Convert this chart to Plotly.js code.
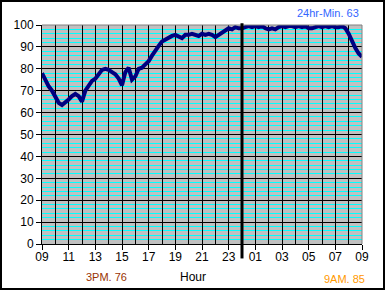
<!DOCTYPE html>
<html>
<head>
<meta charset="utf-8">
<script src="https://cdn.plot.ly/plotly-3.0.1.min.js"></script>
<style>
  html, body { margin: 0; padding: 0; background: #ffffff; }
  #wrap { position: relative; width: 385px; height: 290px; }
  #chart { position: absolute; left: 0; top: 0; width: 385px; height: 290px; }
  #frame { position: absolute; left: 0; top: 0; width: 385px; height: 290px;
           box-sizing: border-box; border: 2px solid #000000; pointer-events: none; }
</style>
</head>
<body>
<div id="wrap"><div id="chart"></div><div id="frame"></div></div>
<script>
// Samples every 15 minutes, starting 09:00 (hour offset 0) through 09:00 next day (offset 24)
const sampleMinutes = 15;
const humidity = [
  78, 74.5, 72, 70, 67, 64.5, 63.5, 64.5, 66, 67.5, 68.5, 67.5, 65,
  70, 72, 74.5, 75.5, 77.5, 79.5, 80, 79.5, 78.5, 77.5, 75.5, 72.5,
  78.5, 80.5, 75, 76.5, 80, 80.5, 82, 83.5,
  86, 88.5, 90.5, 92.5, 93.5, 94.5, 95, 95.5, 94.5, 94, 95.5, 95.5,
  96, 95.5, 95, 96, 95.5, 96, 95.5, 94.5, 95.5, 96.5, 97.5, 98.5,
  98, 99, 98.5, 98.5,
  99, 99.5, 99, 99.5, 99, 99.5, 98.5, 98, 98.5, 98, 99, 99.5, 99,
  99.5, 99.5, 99, 99.5, 99, 99.5, 98.5, 98.5, 99, 99.5, 99, 99.5,
  99, 99.5, 99, 99, 99.5, 98.5,
  96, 92.5, 89.5, 87, 85.5
];
// hour gridlines (every hour) with labels on even offsets
const gridHours = [0, 1, 2, 3, 4, 5, 6, 7, 8, 9, 10, 11, 12, 13, 14, 15, 16, 17, 18, 19, 20, 21, 22, 23, 24];
const gridLabels = ["09", "", "11", "", "13", "", "15", "", "17", "", "19", "", "21", "", "23", "", "01", "", "03", "", "05", "", "07", "", "09"];
const tickHours = [0, 2, 4, 6, 8, 10, 12, 14, 16, 18, 20, 22, 24];
const midnightHour = 15;
const minLabel = "24hr-Min. 63";
const label3pm = "3PM. 76";
const label9am = "9AM. 85";
const xTitle = "Hour";

const hours = humidity.map((v, i) => i * sampleMinutes / 60);

const font = "Liberation Sans, Arial, sans-serif";

const trace = {
  x: hours, y: humidity, type: "scatter", mode: "lines",
  line: { color: "#000080", width: 4 }, hoverinfo: "skip"
};

function note(text, x, y, size, color) {
  return { text: text, xref: "paper", yref: "paper", x: x, y: y, showarrow: false,
           xanchor: "center", yanchor: "middle",
           font: { family: font, size: size, color: color } };
}

const layout = {
  width: 385, height: 290,
  margin: { l: 42, r: 23, t: 25, b: 46, pad: 0 },
  paper_bgcolor: "#ffffff",
  plot_bgcolor: "#c0c0c0",
  showlegend: false,
  font: { family: font, size: 12, color: "#000000" },
  xaxis: {
    range: [0, 24], tickmode: "array", tickvals: gridHours, ticktext: gridLabels,
    showgrid: true, gridcolor: "#000000", gridwidth: 1,
    ticks: "",
    minor: { tickmode: "array", tickvals: tickHours, showgrid: false,
             ticks: "outside", ticklen: 5, tickcolor: "#000000", tickwidth: 1 },
    ticklabelstandoff: 2,
    showline: true, linecolor: "#000000", linewidth: 1,
    zeroline: false, fixedrange: true,
    tickfont: { family: font, size: 12, color: "#000000" }
  },
  yaxis: {
    range: [0, 100], tickmode: "linear", tick0: 0, dtick: 10,
    showgrid: true, gridcolor: "#000000", gridwidth: 1,
    minor: { dtick: 2, showgrid: true, gridcolor: "#00ffff", gridwidth: 1, ticks: "" },
    ticks: "outside", ticklen: 5, tickcolor: "#000000", tickwidth: 1,
    showline: true, linecolor: "#000000", linewidth: 1,
    zeroline: false, fixedrange: true,
    tickfont: { family: font, size: 12, color: "#000000" }
  },
  shapes: [
    { type: "line", xref: "paper", yref: "paper", x0: 0, x1: 1, y0: 1, y1: 1,
      line: { color: "#808080", width: 1 }, layer: "above" },
    { type: "line", xref: "paper", yref: "paper", x0: 1, x1: 1, y0: 0, y1: 1,
      line: { color: "#808080", width: 1 }, layer: "above" },
    { type: "line", xref: "x", yref: "paper", x0: midnightHour, x1: midnightHour, y0: -0.066, y1: 1.008,
      line: { color: "#000000", width: 3 }, layer: "above" }
  ],
  annotations: [
    note(minLabel, 0.894, 1.053, 11, "#3366ff"),
    note(label3pm, 0.203, -0.152, 11, "#993300"),
    note(label9am, 0.944, -0.158, 11, "#ff9900"),
    note(xTitle, 0.472, -0.152, 12, "#000000")
  ]
};

Plotly.newPlot("chart", [trace], layout, { staticPlot: true, displayModeBar: false });
</script>
</body>
</html>
